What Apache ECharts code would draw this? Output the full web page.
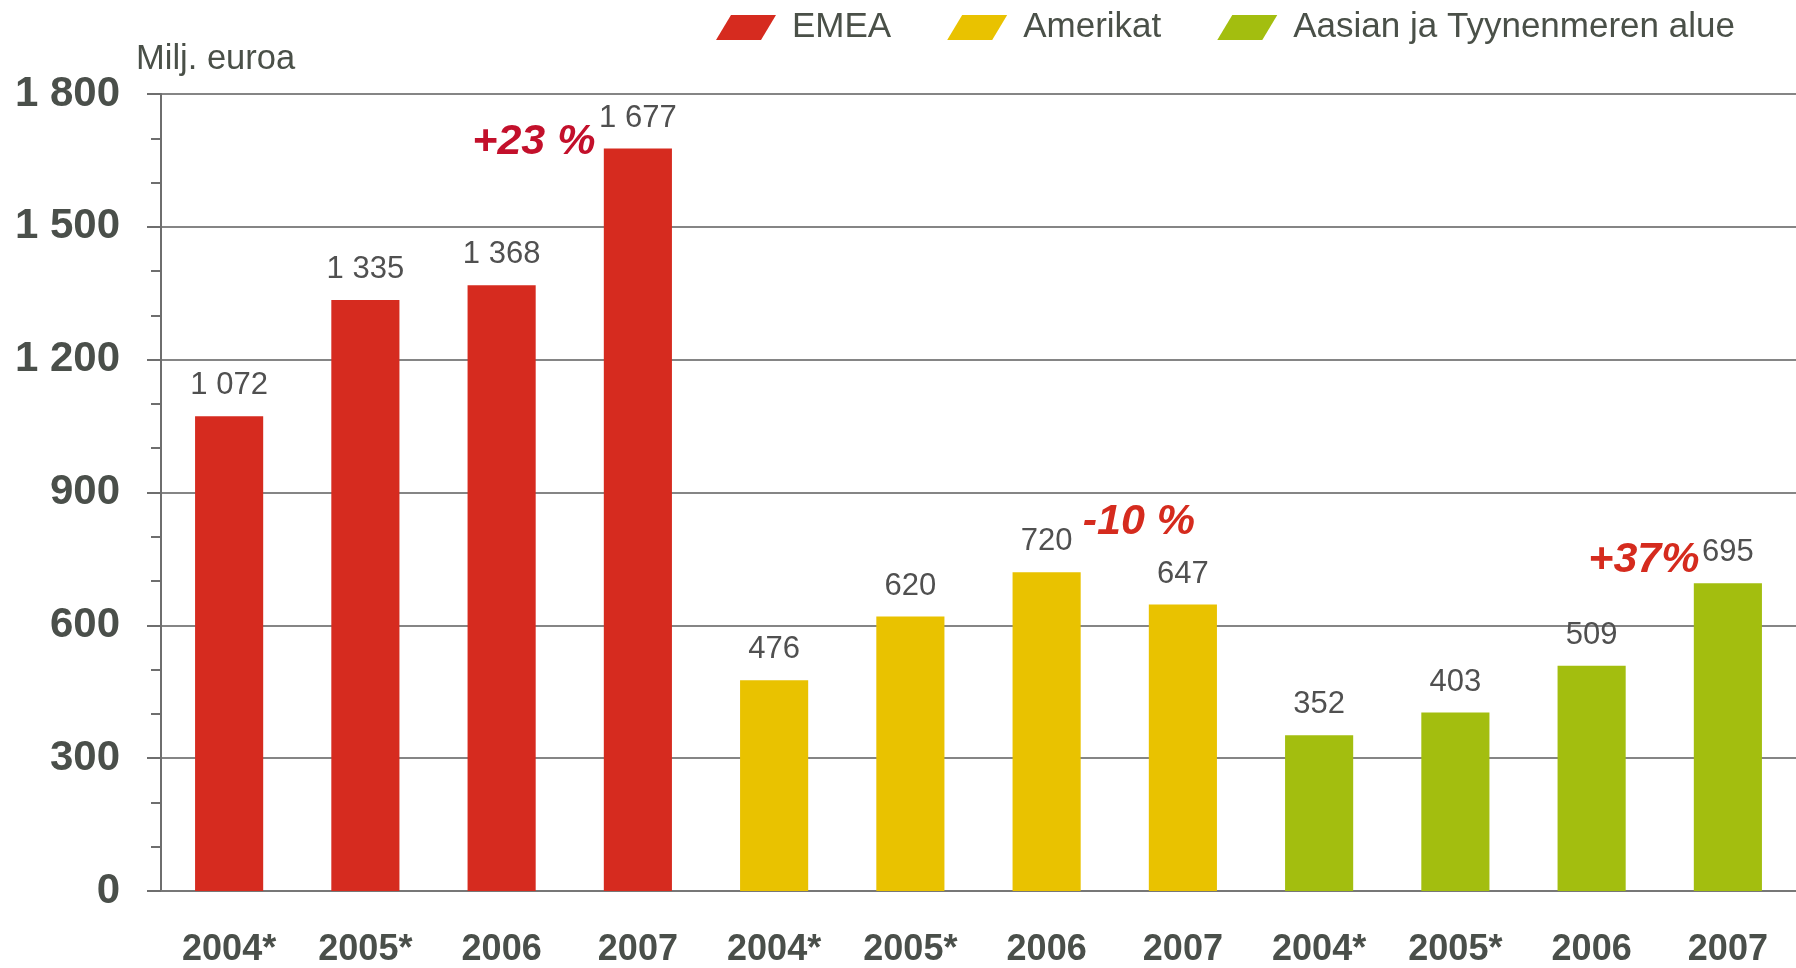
<!DOCTYPE html>
<html>
<head>
<meta charset="utf-8">
<script src="https://cdn.jsdelivr.net/npm/echarts@6/dist/echarts.min.js"></script>
<style>
  html, body { margin: 0; padding: 0; background: #fff; }
  #chart { width: 1796px; height: 968px; }
</style>
</head>
<body>
<div id="chart"></div>
<script>
// categories (one per bar, three regions x four years)
const years = ["2004*", "2005*", "2006", "2007", "2004*", "2005*", "2006", "2007", "2004*", "2005*", "2006", "2007"];
const regions = ["EMEA", "Amerikat", "Aasian ja Tyynenmeren alue"];
const emea = [1072, 1335, 1368, 1677];
const amerikat = [476, 620, 720, 647];
const aasia = [352, 403, 509, 695];
const yTicks = [0, 300, 600, 900, 1200, 1500, 1800];
// change annotations: text + which bar they belong to
const notes = [
  { text: "+23 %", bar: 3, region: 0 },
  { text: "-10 %", bar: 7, region: 1 },
  { text: "+37%", bar: 11, region: 2 }
];

const colors = ["#d62b1f", "#e9c200", "#a3be0f"];
const noteStyle = [
  { color: "#c3102b", offset: [-104, -6] },
  { color: "#d52b1e", offset: [-44, -82] },
  { color: "#d52b1e", offset: [-84, -23] }
];
const sans = "'Liberation Sans', Arial, sans-serif";

// put each region's values into its own 4 slots of the 12 categories
const groups = [emea, amerikat, aasia];
const fmt = (v) => String(v).replace(/\B(?=(\d{3})+(?!\d))/g, " ");

const series = regions.map((name, r) => {
  const data = years.map((_, i) => (Math.floor(i / 4) === r ? groups[r][i % 4] : "-"));
  const marks = notes
    .map((n, k) => ({ n, k }))
    .filter((o) => o.n.region === r)
    .map(({ n, k }) => ({
      coord: [n.bar, data[n.bar]],
      symbolSize: 0,
      label: {
        show: true,
        formatter: n.text,
        position: "inside",
        offset: noteStyle[k].offset,
        color: noteStyle[k].color,
        fontSize: 43,
        fontWeight: "bold",
        fontStyle: "italic",
        fontFamily: sans
      }
    }));
  return {
    name,
    type: "bar",
    stack: "all",
    barWidth: "50%",
    data,
    itemStyle: { color: colors[r] },
    label: {
      show: true,
      position: "top",
      distance: 15,
      formatter: (p) => fmt(p.value),
      color: "#505050",
      fontSize: 31,
      fontFamily: sans
    },
    markPoint: { symbol: "circle", data: marks }
  };
});

const chart = echarts.init(document.getElementById("chart"));
chart.setOption({
  animation: false,
  title: {
    text: "Milj. euroa",
    left: 131,
    top: 37,
    textStyle: { fontSize: 34.5, fontWeight: "normal", color: "#4a5048", fontFamily: sans }
  },
  legend: {
    data: regions,
    left: 716,
    top: 10,
    width: 1075,
    padding: 0,
    itemWidth: 60,
    itemHeight: 25,
    itemGap: 56,
    icon: "path://M15,0L60,0L45,25L0,25Z",
    textStyle: { fontSize: 35, color: "#4a5048", fontFamily: sans, padding: [0, 0, 0, 11] }
  },
  grid: { left: 161, right: 0, top: 94, bottom: 73 },
  xAxis: {
    type: "category",
    data: years,
    axisLine: { lineStyle: { color: "#777", width: 2 } },
    axisTick: { show: false },
    axisLabel: {
      margin: 41,
      fontSize: 36,
      fontWeight: "bold",
      color: "#4a4f4a",
      fontFamily: sans
    }
  },
  yAxis: {
    type: "value",
    min: yTicks[0],
    max: yTicks[yTicks.length - 1],
    interval: yTicks[1] - yTicks[0],
    axisLine: { show: true, lineStyle: { color: "#6e6e6e", width: 2 } },
    axisTick: { show: true, length: 14, lineStyle: { color: "#6e6e6e", width: 2 } },
    minorTick: { show: true, splitNumber: 3, length: 10, lineStyle: { color: "#6e6e6e", width: 2 } },
    splitLine: { lineStyle: { color: "#858585", width: 2 } },
    axisLabel: {
      margin: 41,
      fontSize: 42,
      fontWeight: "bold",
      color: "#4a4f4a",
      fontFamily: sans,
      formatter: (v) => fmt(v)
    }
  },
  series
});
</script>
</body>
</html>
